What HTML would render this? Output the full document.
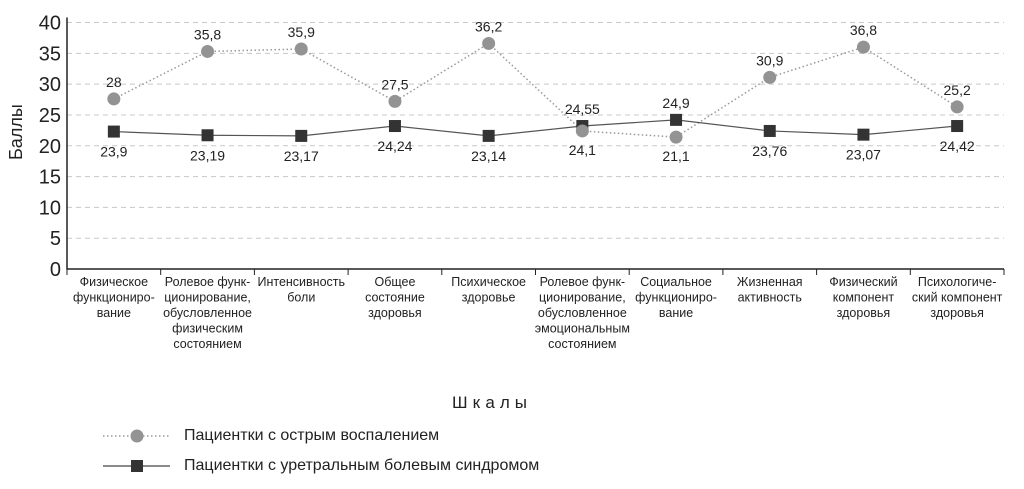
<!DOCTYPE html>
<html><head><meta charset="utf-8"><style>
body{margin:0;background:#fff;}
svg text{font-family:"Liberation Sans Narrow","Liberation Sans",sans-serif;fill:#222;}
</style></head><body>
<svg id="c" width="1024" height="484" viewBox="0 0 1024 484"></svg>
<script>
const categories=[["Физическое","функциониро-","вание"],["Ролевое функ-","ционирование,","обусловленное","физическим","состоянием"],["Интенсивность","боли"],["Общее","состояние","здоровья"],["Психическое","здоровье"],["Ролевое функ-","ционирование,","обусловленное","эмоциональным","состоянием"],["Социальное","функциониро-","вание"],["Жизненная","активность"],["Физический","компонент","здоровья"],["Психологиче-","ский компонент","здоровья"]];
const acuteValues=[27.6,35.3,35.7,27.2,36.6,22.4,21.4,31.1,36.0,26.3];
const acuteLabels=["28","35,8","35,9","27,5","36,2","24,1","21,1","30,9","36,8","25,2"];
const urethralValues=[22.3,21.7,21.6,23.2,21.6,23.2,24.2,22.4,21.8,23.2];
const urethralLabels=["23,9","23,19","23,17","24,24","23,14","24,55","24,9","23,76","23,07","24,42"];
const yTicks=[0,5,10,15,20,25,30,35,40];
const NS="http://www.w3.org/2000/svg",svg=document.getElementById('c');
const X0=67,X1=1004,Y0=269,Y1=22.5,YMAX=40;
const bw=(X1-X0)/categories.length;
const xs=i=>X0+bw*(i+0.5), ys=v=>Y0-(v/YMAX)*(Y0-Y1);
function mk(t,a,p){const e=document.createElementNS(NS,t);for(const k in a)e.setAttribute(k,a[k]);(p||svg).appendChild(e);return e;}
yTicks.forEach(v=>{
  if(v>0){const g=mk('line',{x1:X0,x2:X1,y1:ys(v),y2:ys(v),stroke:'#c8c8c8','stroke-dasharray':'5,4'});
  
  }
  const t=mk('text',{x:X0-6,y:ys(v)+7,'text-anchor':'end','font-size':20});t.textContent=v;
  
  
});
const ax=mk('path',{d:`M${X0} ${Y1-5}V${Y0}H${X1}`,stroke:'#222','stroke-width':1.5,fill:'none'});


for(let i=0;i<=categories.length;i++){const tk=mk('line',{x1:X0+bw*i,x2:X0+bw*i,y1:Y0,y2:Y0+6,stroke:'#222'});

}
categories.forEach((c,i)=>{const t=mk('text',{x:xs(i),y:286,'text-anchor':'middle','font-size':12.5});


c.forEach((l,j)=>{const s=mk('tspan',{x:xs(i),dy:j?15.5:0},t);s.textContent=l;});});
const acuteLine=mk('polyline',{points:acuteValues.map((v,i)=>xs(i)+','+ys(v)).join(' '),fill:'none',stroke:'#999','stroke-width':1.5,'stroke-dasharray':'1.5,2.5'});


const urLine=mk('polyline',{points:urethralValues.map((v,i)=>xs(i)+','+ys(v)).join(' '),fill:'none',stroke:'#555','stroke-width':1.2});


urethralValues.forEach((v,i)=>{const r=mk('rect',{x:xs(i)-6,y:ys(v)-6,width:12,height:12,fill:'#333'});


const above=(i===5||i===6);
const t=mk('text',{x:xs(i),y:above?ys(v)-12:ys(v)+25,'text-anchor':'middle','font-size':14});t.textContent=urethralLabels[i];

});
acuteValues.forEach((v,i)=>{const c=mk('circle',{cx:xs(i),cy:ys(v),r:6.5,fill:'#939393'});


const below=(i===5||i===6);
const t=mk('text',{x:xs(i),y:below?ys(v)+24:ys(v)-12,'text-anchor':'middle','font-size':14});t.textContent=acuteLabels[i];

});
</script>
<div style="position:absolute;left:6px;top:160px;transform:rotate(-90deg);transform-origin:left top;font:18px 'Liberation Sans',sans-serif;color:#222;">Баллы</div>
<div style="position:absolute;left:452px;top:393px;font:17px 'Liberation Sans',sans-serif;letter-spacing:5px;color:#222;">Шкалы</div>
<div style="position:absolute;left:100px;top:425px;">
<svg width="80" height="52" style="position:absolute;left:0;top:0">
<line x1="3" x2="70" y1="11" y2="11" stroke="#999" stroke-width="1.5" stroke-dasharray="1.5,2.5"/><circle cx="37" cy="11" r="6.5" fill="#939393"/>
<line x1="3" x2="70" y1="41" y2="41" stroke="#444" stroke-width="1.2"/><rect x="31" y="35" width="12" height="12" fill="#333"/></svg>
<div style="position:absolute;left:84px;top:2px;white-space:nowrap;font:16px 'Liberation Sans',sans-serif;color:#222">Пациентки с острым воспалением</div>
<div style="position:absolute;left:84px;top:32px;white-space:nowrap;font:16px 'Liberation Sans',sans-serif;color:#222">Пациентки с уретральным болевым синдромом</div>
</div>
</body></html>
